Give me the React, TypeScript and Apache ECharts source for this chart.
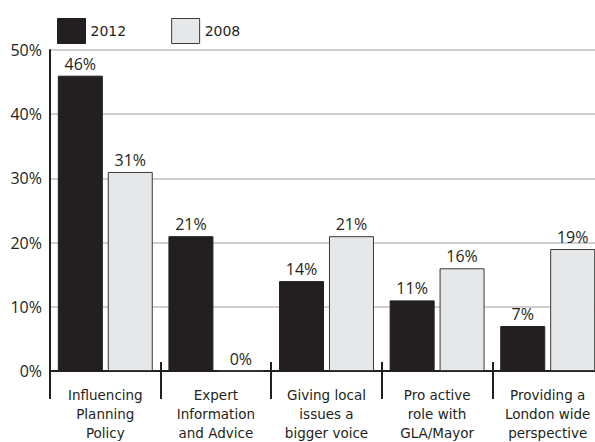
import React, { useEffect, useRef } from "react";
import * as echarts from "echarts";

const categories = [
  "Influencing\nPlanning\nPolicy",
  "Expert\nInformation\nand Advice",
  "Giving local\nissues a\nbigger voice",
  "Pro active\nrole with\nGLA/Mayor",
  "Providing a\nLondon wide\nperspective",
];
const values2012 = [46, 21, 14, 11, 7];
const values2008 = [31, 0, 21, 16, 19];
const yTicks = { min: 0, max: 50, interval: 10 };

export default function App() {
  const ref = useRef<HTMLDivElement>(null);
  useEffect(() => {
    document.body.style.overflow = "hidden";
    const chart = echarts.init(ref.current!, null, { renderer: "svg" });
    const labelStyle = {
      show: true,
      position: "top" as const,
      distance: 4,
      formatter: "{c}%",
      fontSize: 16,
      color: "#231f20",
      fontFamily: "Open Sans",
    };
    chart.setOption({
      animation: false,
      legend: {
        left: 52,
        top: 13,
        itemWidth: 28,
        itemHeight: 25,
        itemGap: 45,
        itemStyle: { borderWidth: 1 },
        icon: "rect",
        textStyle: { fontSize: 14, color: "#231f20", fontFamily: "DejaVu Sans" },
        data: ["2012", "2008"],
      },
      grid: { left: 50, top: 50, bottom: 68, right: 0, containLabel: false },
      xAxis: [
        {
          type: "category",
          data: categories,
          axisLine: { lineStyle: { color: "#231f20", width: 2 } },
          axisTick: { show: true, interval: 0, length: 28, lineStyle: { color: "#231f20", width: 2 } },
          axisLabel: {
            interval: 0,
            fontSize: 13.5,
            lineHeight: 19,
            margin: 14,
            color: "#231f20",
            fontFamily: "DejaVu Sans",
          },
        },
        {
          type: "category",
          data: categories,
          position: "bottom",
          axisLine: { show: false },
          axisTick: { show: true, inside: true, interval: 0, length: 9, lineStyle: { color: "#231f20", width: 2 } },
          axisLabel: { show: false },
          splitLine: { show: false },
        },
      ],
      yAxis: {
        type: "value",
        min: yTicks.min,
        max: yTicks.max,
        interval: yTicks.interval,
        axisLine: { show: true, lineStyle: { color: "#231f20", width: 2 } },
        axisTick: { show: false },
        splitLine: { lineStyle: { color: "#cfcfcf", width: 2 } },
        axisLabel: {
          formatter: "{value}%",
          fontSize: 16,
          margin: 8,
          color: "#231f20",
          fontFamily: "Open Sans",
        },
      },
      series: [
        {
          name: "2012",
          type: "bar",
          xAxisIndex: 0,
          data: values2012,
          barWidth: 45,
          barGap: "11%",
          itemStyle: { color: "#231f20", borderColor: "#231f20", borderWidth: 1 },
          label: labelStyle,
        },
        {
          name: "2008",
          type: "bar",
          xAxisIndex: 0,
          data: values2008,
          barWidth: 45,
          itemStyle: { color: "#e6e7e8", borderColor: "#3a3a3a", borderWidth: 1 },
          label: labelStyle,
        },
      ],
    });
    return () => chart.dispose();
  }, []);
  return (
    <div
      ref={ref}
      style={{ position: "fixed", left: 0, top: 0, width: 603, height: 442, background: "#fff" }}
    />
  );
}
